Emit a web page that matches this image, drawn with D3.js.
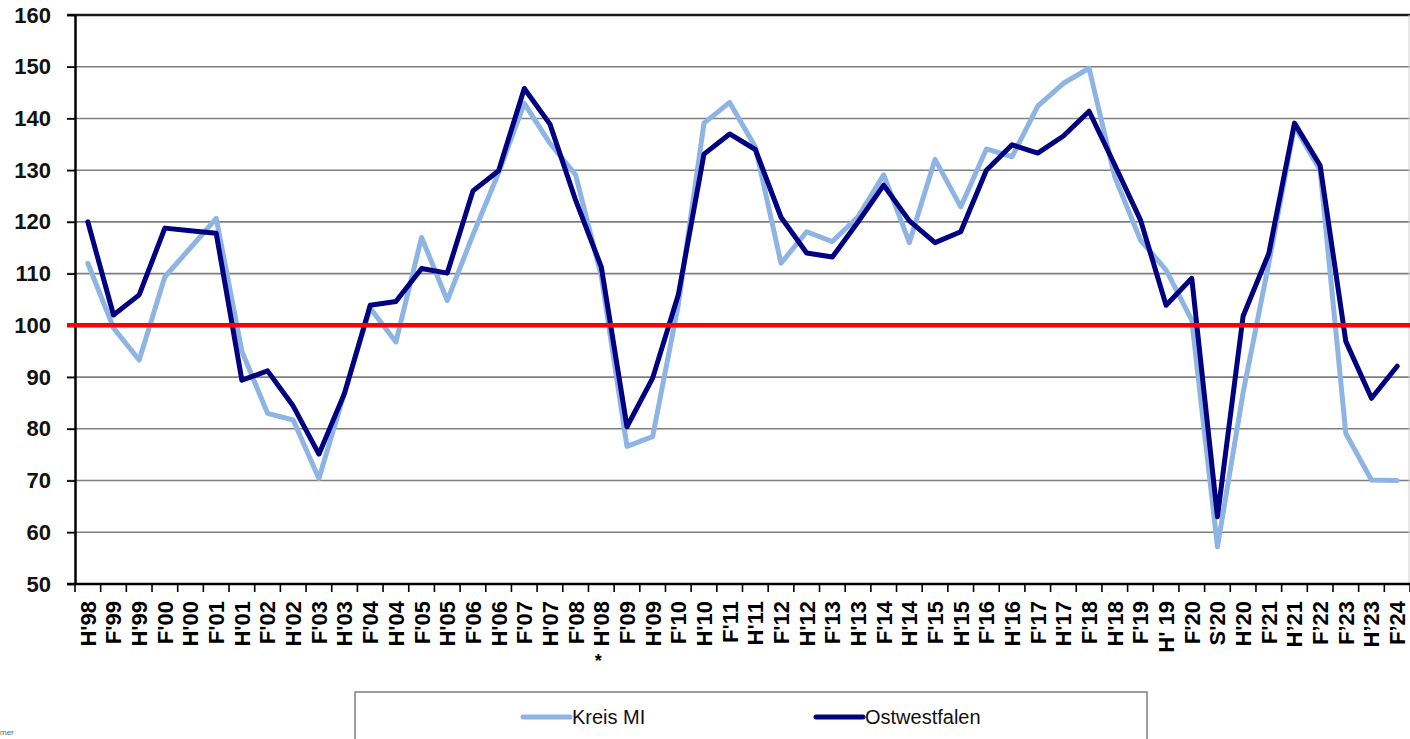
<!DOCTYPE html>
<html>
<head>
<meta charset="utf-8">
<script src="https://cdn.jsdelivr.net/npm/d3@7"></script>
<style>
  body { margin: 0; background: #fff; }
  svg { display: block; }
</style>
</head>
<body>
<svg id="chart" width="1410" height="739"></svg>
<script>
// half-year periods (F = Frühjahr, H = Herbst, S = Sommer)
var periods = ["H'98","F'99","H'99","F'00","H'00","F'01","H'01","F'02","H'02","F'03",
  "H'03","F'04","H'04","F'05","H'05","F'06","H'06","F'07","H'07","F'08",
  "H'08","F'09","H'09","F'10","H'10","F'11","H'11","F'12","H'12","F'13",
  "H'13","F'14","H'14","F'15","H'15","F'16","H'16","F'17","H'17","F'18",
  "H'18","F'19","H' 19","F'20","S'20","H'20","F'21","H\u201921","F\u201922","F\u201923",
  "H\u201923","F\u201924"];

var kreisMI = [112,99.5,93.3,109.4,115,120.7,95,83,81.7,70.4,
  87,103.3,96.8,117,104.8,117.5,129.5,142.9,135.2,129.1,
  109.5,76.6,78.5,104,139.1,143.1,134.5,112,118.1,116.2,
  121,129.1,116,132.1,122.9,134.1,132.6,142.4,146.8,149.7,
  128.7,116.5,110.7,101,57.2,87,112,138.5,130,79.1,
  70.1,70];

var ostwestfalen = [120,102,105.9,118.8,118.3,117.8,89.4,91.2,84.4,75.1,
  86.9,103.9,104.6,111,110.1,126,129.9,145.8,138.9,124.2,
  111.3,80.4,89.8,105.9,133.1,137,134,120.9,114,113.2,
  120,127.1,120.2,116,118.1,130,134.9,133.3,136.6,141.4,
  131,120.4,103.9,109.1,63,101.8,113.9,139.1,130.9,96.9,
  85.9,92.1];

var yTicks = [50,60,70,80,90,100,110,120,130,140,150,160];
var seriesNames = ["Kreis MI", "Ostwestfalen"];
var baseline = 100;

var plotL = 75, plotR = 1410, plotT = 15, plotB = 584;
var colLight = "#8db4e2", colDark = "#000080";

var svg = d3.select("#chart");

var x = d3.scaleBand().domain(periods).range([plotL, plotR]);
var y = d3.scaleLinear().domain([50, 160]).range([plotB, plotT]);
var bw = x.bandwidth();

// gridlines
svg.append("g").selectAll("line")
  .data(yTicks.filter(function(d){ return d > 50 && d < 160; }))
  .join("line")
  .attr("x1", plotL - 8).attr("x2", plotR)
  .attr("y1", function(d){ return y(d); }).attr("y2", function(d){ return y(d); })
  .attr("stroke", "#7f7f7f").attr("stroke-width", 1.6);

// plot border top/right
svg.append("line").attr("x1", plotL - 8).attr("x2", plotR).attr("y1", y(160)).attr("y2", y(160))
  .attr("stroke", "#1a1a1a").attr("stroke-width", 2.5);
svg.append("line").attr("x1", plotR - 1).attr("x2", plotR - 1).attr("y1", y(160)).attr("y2", plotB)
  .attr("stroke", "#d0d0d0").attr("stroke-width", 1);

// y axis
var yAxis = svg.append("g")
  .attr("transform", "translate(" + plotL + ",0)")
  .call(d3.axisLeft(y).tickValues(yTicks).tickSize(8).tickPadding(16).tickSizeOuter(0));
yAxis.select(".domain").attr("stroke", "#000").attr("stroke-width", 2.5);
yAxis.selectAll(".tick line").attr("stroke", "#000").attr("stroke-width", 1.6);
yAxis.selectAll(".tick text")
  .attr("font-family", "'Liberation Sans', Arial, sans-serif")
  .attr("font-size", 22).attr("font-weight", "bold").attr("fill", "#111");

// x axis
var xAxis = svg.append("g")
  .attr("transform", "translate(0," + plotB + ")")
  .call(d3.axisBottom(x).tickSize(0).tickSizeOuter(0));
xAxis.select(".domain").remove();
xAxis.selectAll(".tick text")
  .attr("transform", "rotate(-90)")
  .attr("x", -17).attr("y", 0).attr("dy", "0.36em")
  .style("text-anchor", "end")
  .attr("font-family", "'Liberation Sans', Arial, sans-serif")
  .attr("font-size", 22).attr("font-weight", "bold").attr("fill", "#000");

// tick marks between categories
var edges = periods.map(function(p){ return x(p); }).concat([x(periods[periods.length - 1]) + bw]);
svg.append("g").selectAll("line").data(edges).join("line")
  .attr("x1", function(d){ return d; }).attr("x2", function(d){ return d; })
  .attr("y1", plotB).attr("y2", plotB + 8)
  .attr("stroke", "#000").attr("stroke-width", 1.6);
svg.append("line").attr("x1", plotL - 8).attr("x2", plotR).attr("y1", plotB).attr("y2", plotB)
  .attr("stroke", "#000").attr("stroke-width", 2.5);

// footnote marker under H'08
svg.append("text")
  .attr("x", x("H'08") + bw / 2 - 3).attr("y", 667)
  .attr("text-anchor", "middle")
  .attr("font-family", "'Liberation Sans', Arial, sans-serif")
  .attr("font-size", 18).attr("font-weight", "bold")
  .text("*");

// series
var line = d3.line()
  .x(function(d, i){ return x(periods[i]) + bw / 2; })
  .y(function(d){ return y(d); });

svg.append("path").datum(kreisMI)
  .attr("d", line).attr("fill", "none")
  .attr("stroke", colLight).attr("stroke-width", 5)
  .attr("stroke-linejoin", "round").attr("stroke-linecap", "round");

svg.append("path").datum(ostwestfalen)
  .attr("d", line).attr("fill", "none")
  .attr("stroke", colDark).attr("stroke-width", 5)
  .attr("stroke-linejoin", "round").attr("stroke-linecap", "round");

// 100 line
svg.append("line").attr("x1", plotL - 8).attr("x2", plotR).attr("y1", y(baseline)).attr("y2", y(baseline))
  .attr("stroke", "#ff0000").attr("stroke-width", 4.5);

// legend
var lg = svg.append("g");
lg.append("rect").attr("x", 355).attr("y", 692).attr("width", 792).attr("height", 80)
  .attr("fill", "#fff").attr("stroke", "#7f7f7f").attr("stroke-width", 1.5);
var legendX = [523, 816];
var legendCol = [colLight, colDark];
seriesNames.forEach(function(name, i){
  lg.append("line").attr("x1", legendX[i]).attr("x2", legendX[i] + 47)
    .attr("y1", 717).attr("y2", 717)
    .attr("stroke", legendCol[i]).attr("stroke-width", 5).attr("stroke-linecap", "round");
  lg.append("text").attr("x", legendX[i] + 49).attr("y", 724)
    .attr("font-family", "'Liberation Sans', Arial, sans-serif")
    .attr("font-size", 20).attr("fill", "#111")
    .text(name);
});

svg.append("text").attr("x", 0).attr("y", 735)
  .attr("font-family", "'Liberation Sans', Arial, sans-serif")
  .attr("font-size", 8).attr("fill", "#666").text("mer");
</script>
</body>
</html>
